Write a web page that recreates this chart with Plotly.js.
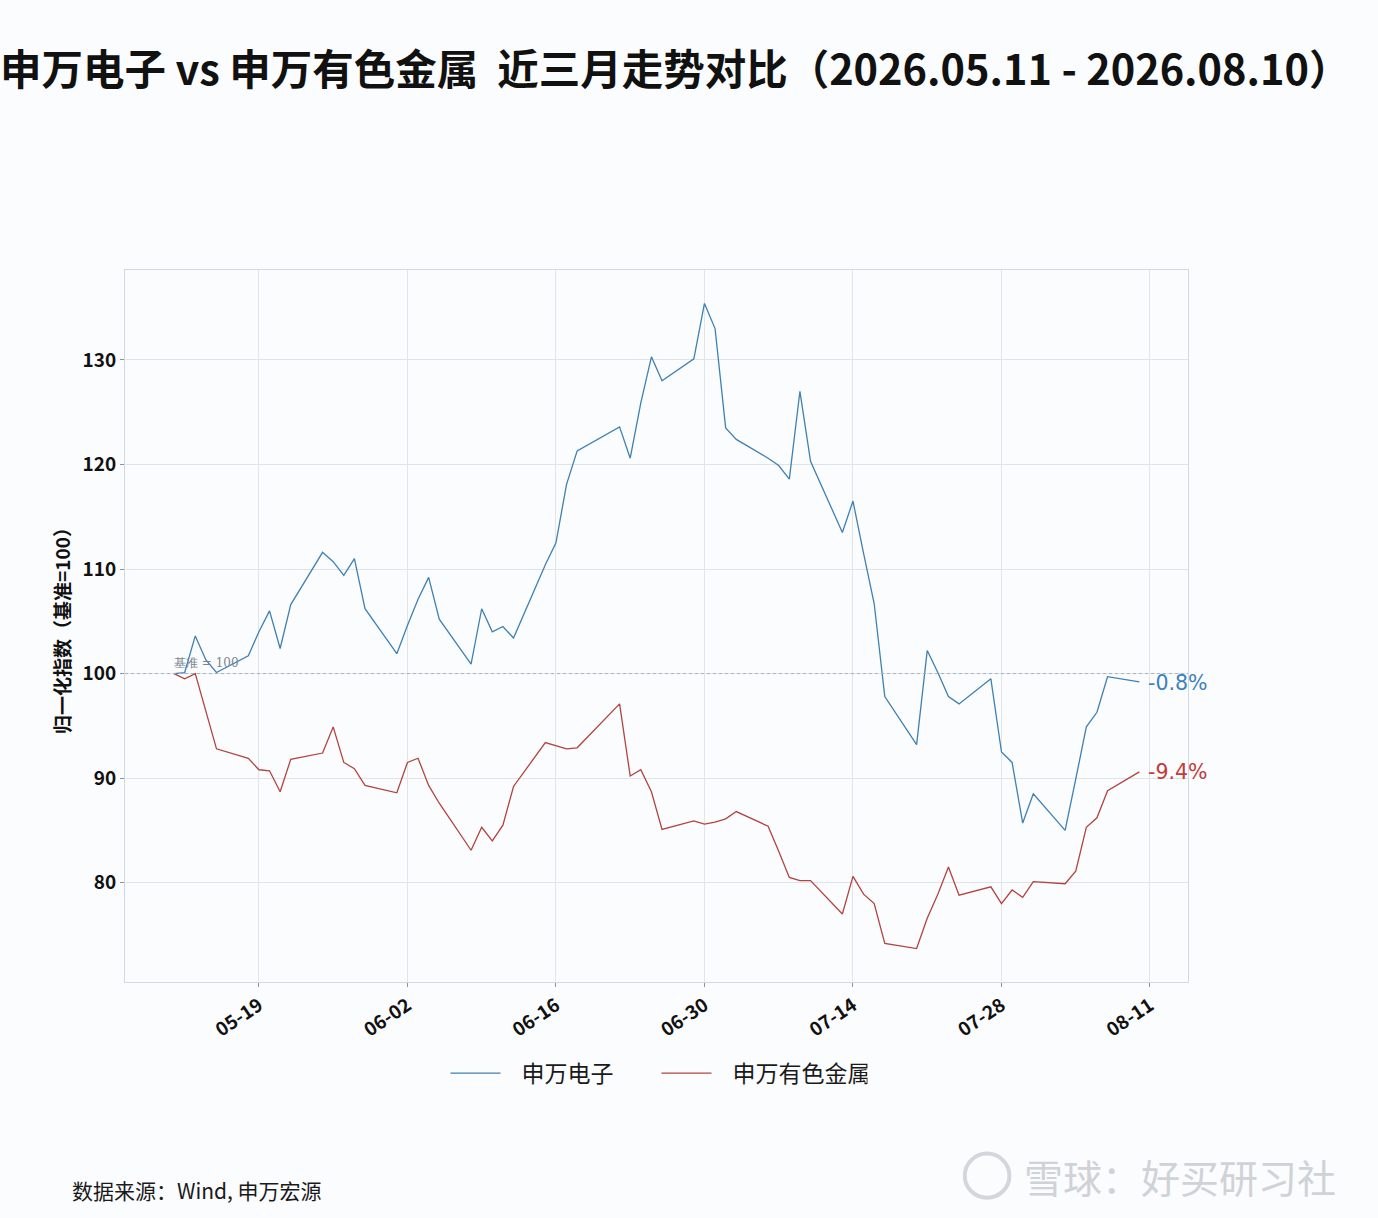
<!DOCTYPE html>
<html>
<head>
<meta charset="utf-8">
<script src="https://cdn.plot.ly/plotly-3.0.1.min.js"></script>
<style>
  html, body { margin: 0; padding: 0; background: #fbfcfd; }
  #chart { width: 1378px; height: 1218px; }
</style>
</head>
<body>
<div id="chart"></div>
<script>
// trading days (06-19 Dragon Boat holiday)
var dates = [
  '2026-05-11','2026-05-12','2026-05-13','2026-05-14','2026-05-15',
  '2026-05-18','2026-05-19','2026-05-20','2026-05-21','2026-05-22',
  '2026-05-25','2026-05-26','2026-05-27','2026-05-28','2026-05-29',
  '2026-06-01','2026-06-02','2026-06-03','2026-06-04','2026-06-05',
  '2026-06-08','2026-06-09','2026-06-10','2026-06-11','2026-06-12',
  '2026-06-15','2026-06-16','2026-06-17','2026-06-18',
  '2026-06-22','2026-06-23','2026-06-24','2026-06-25','2026-06-26',
  '2026-06-29','2026-06-30','2026-07-01','2026-07-02','2026-07-03',
  '2026-07-06','2026-07-07','2026-07-08','2026-07-09','2026-07-10',
  '2026-07-13','2026-07-14','2026-07-15','2026-07-16','2026-07-17',
  '2026-07-20','2026-07-21','2026-07-22','2026-07-23','2026-07-24',
  '2026-07-27','2026-07-28','2026-07-29','2026-07-30','2026-07-31',
  '2026-08-03','2026-08-04','2026-08-05','2026-08-06','2026-08-07',
  '2026-08-10'
];

// 申万电子, normalised
var dianzi = [
  100.0, 100.1, 103.6, 101.3, 100.1,
  101.7, 104.0, 106.0, 102.4, 106.6,
  111.6, 110.7, 109.4, 111.0, 106.2,
  101.9, 104.6, 107.1, 109.2, 105.2,
  100.9, 106.2, 104.0, 104.5, 103.4,
  110.4, 112.5, 118.1, 121.3,
  123.6, 120.6, 125.9, 130.3, 128.0,
  130.1, 135.4, 133.0, 123.5, 122.4,
  120.6, 119.9, 118.6, 127.0, 120.3,
  113.5, 116.5, 111.5, 106.7, 97.8,
  93.2, 102.2, 100.1, 97.8, 97.1,
  99.5, 92.5, 91.5, 85.7, 88.5,
  85.0, 89.9, 94.9, 96.3, 99.7,
  99.2
];

// 申万有色金属, normalised
var youse = [
  100.0, 99.5, 100.0, 96.3, 92.8,
  91.9, 90.8, 90.7, 88.7, 91.8,
  92.4, 94.9, 91.5, 90.9, 89.3,
  88.6, 91.5, 91.9, 89.3, 87.6,
  83.1, 85.3, 84.0, 85.5, 89.2,
  93.4, 93.1, 92.8, 92.9,
  97.1, 90.2, 90.8, 88.7, 85.1,
  85.9, 85.6, 85.8, 86.1, 86.8,
  85.4, 83.0, 80.5, 80.2, 80.2,
  77.0, 80.6, 78.9, 78.0, 74.2,
  73.7, 76.6, 78.9, 81.5, 78.8,
  79.6, 78.0, 79.3, 78.6, 80.1,
  79.9, 81.1, 85.3, 86.2, 88.8,
  90.6
];

var tick_dates = ['2026-05-19','2026-06-02','2026-06-16','2026-06-30','2026-07-14','2026-07-28','2026-08-11'];
var tick_labels = ['05-19','06-02','06-16','06-30','07-14','07-28','08-11'];
var y_ticks = [80, 90, 100, 110, 120, 130];

var blue = '#3f80b3';
var red = '#b3433f';
var cjk = '"Noto Sans CJK SC", "Noto Sans", sans-serif';
var pad = '\u2002\u2009';

var trace_dz = {
  x: dates, y: dianzi,
  mode: 'lines', type: 'scatter', name: pad + '申万电子',
  line: {color: blue, width: 1.3}
};
var trace_ys = {
  x: dates, y: youse,
  mode: 'lines', type: 'scatter', name: pad + '申万有色金属',
  line: {color: red, width: 1.3}
};

var last = dates.length - 1;
var pct_dz = (dianzi[last] - 100).toFixed(1) + '%';
var pct_ys = (youse[last] - 100).toFixed(1) + '%';

var layout = {
  width: 1378, height: 1218,
  paper_bgcolor: '#fbfcfd',
  plot_bgcolor: '#fbfcfd',
  margin: {l: 125, r: 190, t: 270, b: 236},
  font: {family: cjk, color: '#1a1a1a'},
  title: {
    text: '申万电子 vs 申万有色金属  近三月走势对比（2026.05.11 - 2026.08.10）',
    font: {family: cjk, size: 41.5, color: '#111', weight: 700},
    x: 0, xanchor: 'left', xref: 'container',
    y: 0.942, yanchor: 'middle', yref: 'container'
  },
  xaxis: {
    type: 'date',
    range: ['2026-05-06 09:00', '2026-08-14 14:00'],
    tickvals: tick_dates, ticktext: tick_labels,
    tickangle: -34,
    tickfont: {family: cjk, size: 19, color: '#111', weight: 600},
    ticks: 'outside', ticklen: 4, tickcolor: '#8a939c',
    showgrid: true, gridcolor: '#e0e5eb', gridwidth: 1,
    showline: true, linecolor: '#d3d9e0', mirror: true,
    zeroline: false
  },
  yaxis: {
    range: [70.5, 138.6],
    tickvals: y_ticks,
    tickfont: {family: cjk, size: 19, color: '#111', weight: 600},
    ticks: 'outside', ticklen: 4, tickcolor: '#8a939c',
    showgrid: true, gridcolor: '#dfe4ea', gridwidth: 1,
    showline: true, linecolor: '#d3d9e0', mirror: true,
    zeroline: false,
    title: {text: '归一化指数（基准=100）', font: {family: cjk, size: 19, color: '#111', weight: 600}, standoff: 6}
  },
  legend: {
    orientation: 'h', x: 0.5, xanchor: 'center', y: -0.128, yanchor: 'middle',
    font: {family: cjk, size: 23, color: '#1a1a1a'},
    bgcolor: 'rgba(0,0,0,0)', itemwidth: 50,
    entrywidth: 146, entrywidthmode: 'pixels'
  },
  shapes: [
    {type: 'line', xref: 'paper', x0: 0, x1: 1, yref: 'y', y0: 100, y1: 100,
     line: {color: '#a9b2bc', width: 1, dash: 'dot'}},
    // watermark logo ring
    {type: 'circle', xref: 'paper', yref: 'paper',
     x0: 0.790, x1: 0.832, y0: -0.303, y1: -0.241,
     line: {color: '#d3d6da', width: 4}}
  ],
  annotations: [
    {x: dates[0], y: 100, xref: 'x', yref: 'y', text: '基准 = 100', showarrow: false,
     xanchor: 'left', yanchor: 'bottom', yshift: 2, xshift: -2,
     font: {family: 'DejaVu Serif, serif', size: 12, color: '#7d8590'}},
    {x: dates[last], y: dianzi[last], xref: 'x', yref: 'y', text: pct_dz, showarrow: false,
     xanchor: 'left', xshift: 7, yshift: -1, font: {family: '"DejaVu Sans", sans-serif', size: 20.5, color: '#3a82c0'}},
    {x: dates[last], y: youse[last], xref: 'x', yref: 'y', text: pct_ys, showarrow: false,
     xanchor: 'left', xshift: 7, font: {family: '"DejaVu Sans", sans-serif', size: 20.5, color: '#c23b36'}},
    {x: -0.052, y: -0.292, xref: 'paper', yref: 'paper', text: '数据来源：Wind, 申万宏源', showarrow: false,
     xanchor: 'left', yanchor: 'middle', font: {family: cjk, size: 21, color: '#1a1a1a'}},
    {x: 1.141, y: -0.272, xref: 'paper', yref: 'paper', text: '雪球：好买研习社', showarrow: false,
     xanchor: 'right', yanchor: 'middle', font: {family: cjk, size: 39, color: '#cfd2d6'}}
  ]
};

Plotly.newPlot('chart', [trace_dz, trace_ys], layout, {displayModeBar: false});
</script>
</body>
</html>
